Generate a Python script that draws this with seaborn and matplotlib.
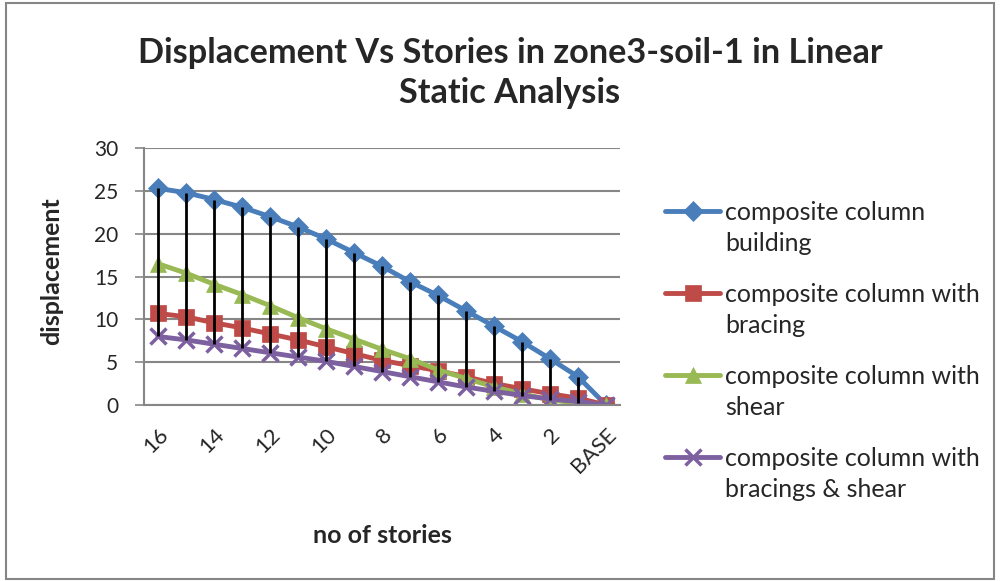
import numpy as np
import pandas as pd
import seaborn as sns
import matplotlib.pyplot as plt
from matplotlib.patches import Rectangle

sns.set_theme(style="white")
plt.rcParams['font.family'] = ['Lato', 'DejaVu Sans']

stories = ["16", "15", "14", "13", "12", "11", "10", "9", "8",
           "7", "6", "5", "4", "3", "2", "1", "BASE"]

building = [25.3, 24.8, 24.0, 23.1, 22.0, 20.8, 19.4, 17.8, 16.2,
            14.4, 12.8, 11.0, 9.2, 7.4, 5.4, 3.3, 0.0]
bracing = [10.7, 10.3, 9.6, 9.0, 8.3, 7.6, 6.8, 6.0, 5.2,
           4.6, 4.0, 3.3, 2.5, 1.9, 1.3, 0.8, 0.0]
shear = [16.5, 15.4, 14.1, 12.9, 11.6, 10.2, 8.9, 7.7, 6.5,
         5.4, 4.1, 3.1, 2.1, 1.3, 0.6, 0.2, 0.0]
brac_shear = [8.0, 7.6, 7.1, 6.6, 6.1, 5.6, 5.1, 4.5, 3.9,
              3.3, 2.7, 2.1, 1.6, 1.1, 0.7, 0.4, 0.0]

labels = ["composite column\nbuilding",
          "composite column with\nbracing",
          "composite column with\nshear",
          "composite column with\nbracings & shear"]
colors = ["#4A7EBB", "#BE4B48", "#98B954", "#7D60A0"]
markers = ["D", "s", "^", "x"]
msizes = [10, 12, 12, 11]

pos = np.arange(len(stories))
data = pd.DataFrame({"pos": pos, "story": stories})
series = [building, bracing, shear, brac_shear]

fig = plt.figure(figsize=(10, 5.81), dpi=100)
ax = fig.add_axes([0.144, 0.303, 0.476, 0.442])

for vals, lab, c, m, ms in zip(series, labels, colors, markers, msizes):
    data["disp"] = vals
    sns.lineplot(x="pos", y="disp", data=data, ax=ax, color=c, label=lab,
                 marker=m, markersize=ms, linewidth=3.5,
                 markeredgecolor=c, markeredgewidth=2.5 if m == "x" else 0.5)

# high-low lines
hi = np.max(np.array(series), axis=0)
lo = np.min(np.array(series), axis=0)
ax.vlines(pos, lo, hi, color="black", linewidth=2, zorder=5)

ax.set_xlim(-0.5, len(stories) - 0.5)
ax.set_ylim(0, 30)
ax.set_yticks([0, 5, 10, 15, 20, 25, 30])
ax.set_xticks(pos[::2])
ax.set_xticklabels(stories[::2], rotation=45, ha="right", va="top",
                   rotation_mode="anchor", fontsize=16)
ax.tick_params(axis="y", labelsize=15, length=6.5, width=1.2, color="#868686",
               direction="out", pad=12, left=True)
ax.tick_params(axis="x", length=0, pad=14)
ax.grid(axis="y", color="#868686", linewidth=1.5)
ax.set_axisbelow(True)
for s in ["top", "right"]:
    ax.spines[s].set_visible(False)
for s in ["left", "bottom"]:
    ax.spines[s].set_color("#868686")
    ax.spines[s].set_linewidth(1.5)

ax.set_xlabel("no of stories", fontsize=18, fontweight="bold", labelpad=34)
ax.set_ylabel("displacement", fontsize=18, fontweight="bold")
ax.yaxis.set_label_coords(-0.17, 0.52)
fig.text(0.51, 0.875, "Displacement Vs Stories in zone3-soil-1 in Linear\nStatic Analysis",
         ha="center", va="center", fontsize=24.7, fontweight="bold", linespacing=1.3)

leg = ax.legend(loc="center left", bbox_to_anchor=(1.074, 0.21), frameon=False,
                fontsize=18, handlelength=2.2, handleheight=1.0, labelspacing=1.1,
                handletextpad=0.2, borderaxespad=0)
for t in leg.get_texts():
    t.set_linespacing(1.45)
# put each handle next to the first line of its label
for col in leg._legend_handle_box.get_children():
    for item in col.get_children():
        item.align = "top"

fig.patches.append(Rectangle((0.006, 0.004), 0.988, 0.99, transform=fig.transFigure,
                             fill=False, edgecolor="#868686", linewidth=1.5))

fig.savefig("out.png", dpi=100)
